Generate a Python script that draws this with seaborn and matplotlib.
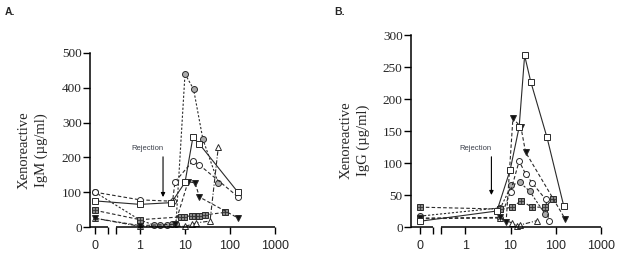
import numpy as np
import matplotlib
matplotlib.use("Agg")
import matplotlib.pyplot as plt
import seaborn as sns

# ---------------- data ----------------
# Panel A: Xenoreactive IgM
A_sq_x = [0, 1, 5, 10, 15, 21, 150]
A_sq_y = [75, 65, 70, 128, 258, 238, 100]
A_oc_x = [0, 1, 5.3, 6, 15, 21, 150]
A_oc_y = [100, 78, 74, 130, 190, 178, 87]
A_gc_x = [0, 1, 2, 2.8, 4, 5.1, 6.3, 10, 15.5, 25, 55]
A_gc_y = [100, 20, 6, 6, 7, 8, 9, 440, 396, 252, 126]
A_hs_x = [0, 1, 8, 9.5, 14, 17, 21, 28, 78]
A_hs_y = [48, 21, 29, 30, 32, 33, 32, 35, 42]
A_dt_x = [0, 1, 6, 11.7, 16.7, 21, 150]
A_dt_y = [25, 4, 8, 130, 127, 86, 26]
A_ut_x = [0, 1, 10, 14.6, 18, 36, 55]
A_ut_y = [25, 2, 2, 8, 12, 17, 230]

# Panel B: Xenoreactive IgG
B_sq_x = [0, 5, 9.8, 15.5, 20.5, 28, 64, 150]
B_sq_y = [9, 25, 89, 156, 268, 227, 140, 33]
B_oc_x = [0, 6, 10, 15.5, 21.5, 30, 60, 70]
B_oc_y = [13, 14, 55, 103, 83, 69, 43, 10]
B_gc_x = [0, 6, 10.5, 15.8, 26.5, 57]
B_gc_y = [17, 30, 65, 70, 56, 21]
B_hs_x = [0, 6, 11, 17, 30, 58, 85]
B_hs_y = [31, 28, 31, 41, 31, 31, 43]
B_dt_x = [0, 6, 8, 11.3, 17, 21.5, 160]
B_dt_y = [14, 15, 8, 170, 156, 117, 13]
B_ut_x = [6, 11, 13.6, 16, 39]
B_ut_y = [14, 6, 2, 3, 10]

x_ticks = [0, 1, 10, 100, 1000]
x_tick_labels = ["0", "1", "10", "100", "1000"]
A_yticks = [0, 100, 200, 300, 400, 500]
B_yticks = [0, 50, 100, 150, 200, 250, 300]

A_rej = dict(x=3.25, tip=86, text_y=215)
B_rej = dict(x=3.78, tip=50, text_y=117)

# ---------------- style ----------------
sns.set_style("ticks")
plt.rcParams['font.family'] = ['Liberation Sans', 'DejaVu Sans']

LINE = '#2a2a2a'
EDGE = '#2a2a2a'
GREY = '#ababab'
HATCH = '#8a8a8a'
DASH = (0, (3.2, 2.0))
DOT = (0, (2.0, 1.6))
DASHDOT = (0, (4, 1.6, 1, 1.6))


def fwd(x):
    x = np.asarray(x, dtype=float)
    safe = np.where(x > 0, x, 1.0)
    return np.where(x > 0, np.log10(safe), -1.0)


def inv(p):
    return np.power(10.0, np.asarray(p, dtype=float))


def series(ax, x, y, marker, face, ls, ms=4.3):
    sns.lineplot(x=x, y=y, ax=ax, color=LINE, lw=0.8, linestyle=ls,
                 marker=marker, markersize=ms, markerfacecolor=face,
                 markeredgecolor=EDGE, markeredgewidth=0.7, clip_on=False,
                 sort=False, estimator=None, legend=False)


def hatched(ax, x, y, ls):
    series(ax, x, y, 's', HATCH, ls, ms=4.2)
    sns.lineplot(x=x, y=y, ax=ax, color=EDGE, linestyle='None', marker='+',
                 markersize=4.2, markeredgecolor='#333333', markeredgewidth=0.6,
                 clip_on=False, sort=False, estimator=None, legend=False)


fig = plt.figure(figsize=(6.24, 2.57), dpi=100)
axA = fig.add_axes([90 / 624, 30 / 257, 185 / 624, 174 / 257])
axB = fig.add_axes([411 / 624, 30 / 257, 190 / 624, 192 / 257])

BRK1, BRK2 = 10 ** -0.71, 10 ** -0.53


def setup(ax, xlo, ymax, yticks, ylabel, lab_x, lab_y, rej):
    ax.set_xscale('function', functions=(fwd, inv))


for ax in (axA, axB):
    ax.set_xscale('function', functions=(fwd, inv))

# Panel A series
series(axA, A_gc_x, A_gc_y, 'o', GREY, DOT)
series(axA, A_oc_x, A_oc_y, 'o', 'white', DASH)
hatched(axA, A_hs_x, A_hs_y, DASH)
series(axA, A_ut_x, A_ut_y, '^', 'white', DASHDOT)
series(axA, A_dt_x, A_dt_y, 'v', '#111111', DASH)
series(axA, A_sq_x, A_sq_y, 's', 'white', '-')

# Panel B series
series(axB, B_gc_x, B_gc_y, 'o', GREY, DOT)
series(axB, B_oc_x, B_oc_y, 'o', 'white', DASH)
hatched(axB, B_hs_x, B_hs_y, DASH)
series(axB, B_ut_x, B_ut_y, '^', 'white', DASHDOT)
series(axB, B_dt_x, B_dt_y, 'v', '#111111', DASH)
series(axB, B_sq_x, B_sq_y, 's', 'white', '-')

panels = [
    (axA, 10 ** -1.111, 500, A_yticks, "Xenoreactive\nIgM (\u00b5g/ml)", -0.227, 0.44, A_rej),
    (axB, 10 ** -1.2, 300, B_yticks, "Xenoreactive\nIgG (\u00b5g/ml)", -0.216, 0.453, B_rej),
]
for ax, xlo, ymax, yticks, ylabel, lx, ly, rej in panels:
    ax.set_xlim(xlo, 1000)
    ax.set_ylim(0, ymax)
    ax.set_xticks(x_ticks, labels=x_tick_labels)
    ax.set_xticks([BRK1, BRK2], minor=True)
    ax.set_yticks(yticks)
    sns.despine(ax=ax)
    ax.spines['bottom'].set_visible(False)
    ax.spines['left'].set_linewidth(1.1)
    ax.spines['left'].set_color('black')
    tr = ax.get_xaxis_transform()
    ax.plot([xlo, BRK1], [0, 0], transform=tr, color='black', lw=1.1,
            clip_on=False, solid_capstyle='butt')
    ax.plot([BRK2, 1000], [0, 0], transform=tr, color='black', lw=1.1,
            clip_on=False, solid_capstyle='butt')
    ax.tick_params(axis='x', which='both', length=5, width=1.0, color='black',
                   direction='out', pad=4.5, labelsize=9)
    ax.tick_params(axis='y', which='major', length=5, width=1.0, color='black',
                   direction='out', pad=1.0, labelsize=9.5)
    for t in ax.get_yticklabels():
        t.set_fontfamily(['Liberation Serif'])
    ax.set_ylabel(ylabel, family=['Liberation Serif'], fontsize=10.5,
                  linespacing=1.4)
    ax.yaxis.set_label_coords(lx, ly)
    ax.set_xlabel("")
    ax.set_xlim(xlo, 1000)
    ax.set_ylim(0, ymax)
    ax.annotate("Rejection", xy=(rej['x'], rej['tip']),
                xytext=(rej['x'], rej['text_y']), ha='right', va='bottom',
                fontsize=5.5, color='#3a3f4a',
                arrowprops=dict(arrowstyle='-|>', relpos=(1.0, 0.0), shrinkA=1,
                                shrinkB=0, lw=0.8, color='black',
                                mutation_scale=6))

fig.text(5 / 624, 1 - 7 / 257, "A.", fontsize=7.5, weight='bold', va='top')
fig.text(334 / 624, 1 - 7 / 257, "B.", fontsize=7.5, weight='bold', va='top')

fig.savefig("out.png", dpi=100)
